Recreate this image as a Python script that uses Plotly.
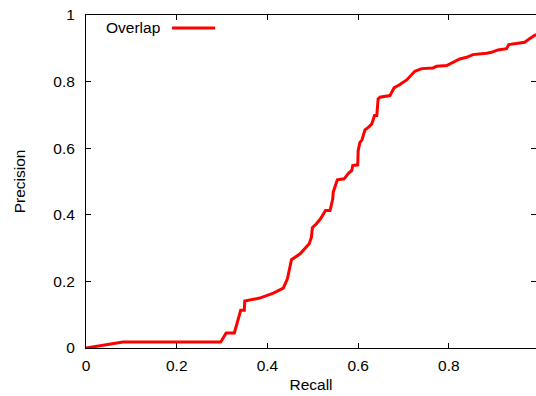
import plotly.graph_objects as go

recall = [0.0, 0.0815, 0.291, 0.297, 0.309, 0.327, 0.341, 0.349, 0.350,
          0.383, 0.413, 0.435, 0.444, 0.451, 0.453, 0.472, 0.492, 0.497,
          0.499, 0.508, 0.517, 0.528, 0.538, 0.544, 0.545, 0.554, 0.569,
          0.579, 0.586, 0.588, 0.599, 0.600, 0.604, 0.608, 0.615, 0.623,
          0.630, 0.636, 0.641, 0.644, 0.648, 0.670, 0.679, 0.692, 0.707,
          0.725, 0.740, 0.765, 0.773, 0.795, 0.810, 0.824, 0.839, 0.853,
          0.883, 0.894, 0.908, 0.927, 0.932, 0.949, 0.967, 0.978, 0.989, 1.0]
precision = [0.0, 0.018, 0.018, 0.018, 0.045, 0.045, 0.113, 0.113, 0.141,
             0.150, 0.165, 0.180, 0.208, 0.261, 0.265, 0.283, 0.313, 0.333,
             0.361, 0.373, 0.388, 0.413, 0.413, 0.448, 0.468, 0.505, 0.508,
             0.525, 0.533, 0.548, 0.550, 0.593, 0.618, 0.623, 0.655, 0.663,
             0.673, 0.698, 0.698, 0.748, 0.753, 0.758, 0.781, 0.791, 0.805,
             0.831, 0.839, 0.841, 0.846, 0.848, 0.858, 0.868, 0.873, 0.881,
             0.885, 0.888, 0.895, 0.899, 0.911, 0.914, 0.918, 0.929, 0.939, 0.945]

x_ticks = [0, 0.2, 0.4, 0.6, 0.8, 1]
x_tick_labels = ["0", "0.2", "0.4", "0.6", "0.8", "1"]
y_ticks = [0, 0.2, 0.4, 0.6, 0.8, 1]
y_tick_labels = ["0", "0.2", "0.4", "0.6", "0.8", "1"]

FONT = "Liberation Sans, Arial, Helvetica, sans-serif"
FS = 15.5

fig = go.Figure()
fig.add_trace(go.Scatter(x=recall, y=precision, mode="lines", name="Overlap",
                         line=dict(color="#ff0000", width=3), showlegend=False))

axis_common = dict(showline=True, linecolor="black", linewidth=1, mirror="ticks",
                   ticks="inside", ticklen=5, tickcolor="black", tickwidth=1,
                   showgrid=False, zeroline=False, automargin=False,
                   tickfont=dict(family=FONT, size=FS, color="black"))

fig.update_xaxes(range=[0, 0.992], tickvals=x_ticks, ticktext=x_tick_labels,
                 title=dict(text="Recall", font=dict(family=FONT, size=FS, color="black"), standoff=6),
                 ticklabelstandoff=3, **axis_common)
fig.update_yaxes(range=[0, 1], tickvals=y_ticks, ticktext=y_tick_labels,
                 title=dict(text="Precision", font=dict(family=FONT, size=FS, color="black"), standoff=23),
                 ticklabelstandoff=7, **axis_common)

# legend key in gnuplot style (label then sample line)
fig.add_annotation(xref="paper", yref="paper", x=0.04, y=0.961, xanchor="left", yanchor="middle",
                   text="Overlap", showarrow=False, font=dict(family=FONT, size=FS, color="black"))
fig.add_shape(type="line", xref="paper", yref="paper", x0=0.191, x1=0.287, y0=0.961, y1=0.961,
              line=dict(color="#ff0000", width=3))

fig.update_layout(width=536, height=396, margin=dict(l=86, r=0, t=15, b=48),
                  paper_bgcolor="white", plot_bgcolor="white",
                  font=dict(family=FONT, size=FS, color="black"))

fig.write_html("out.html", config={"displayModeBar": False},
               post_script="document.body.style.margin='0';document.body.style.overflow='hidden';")
